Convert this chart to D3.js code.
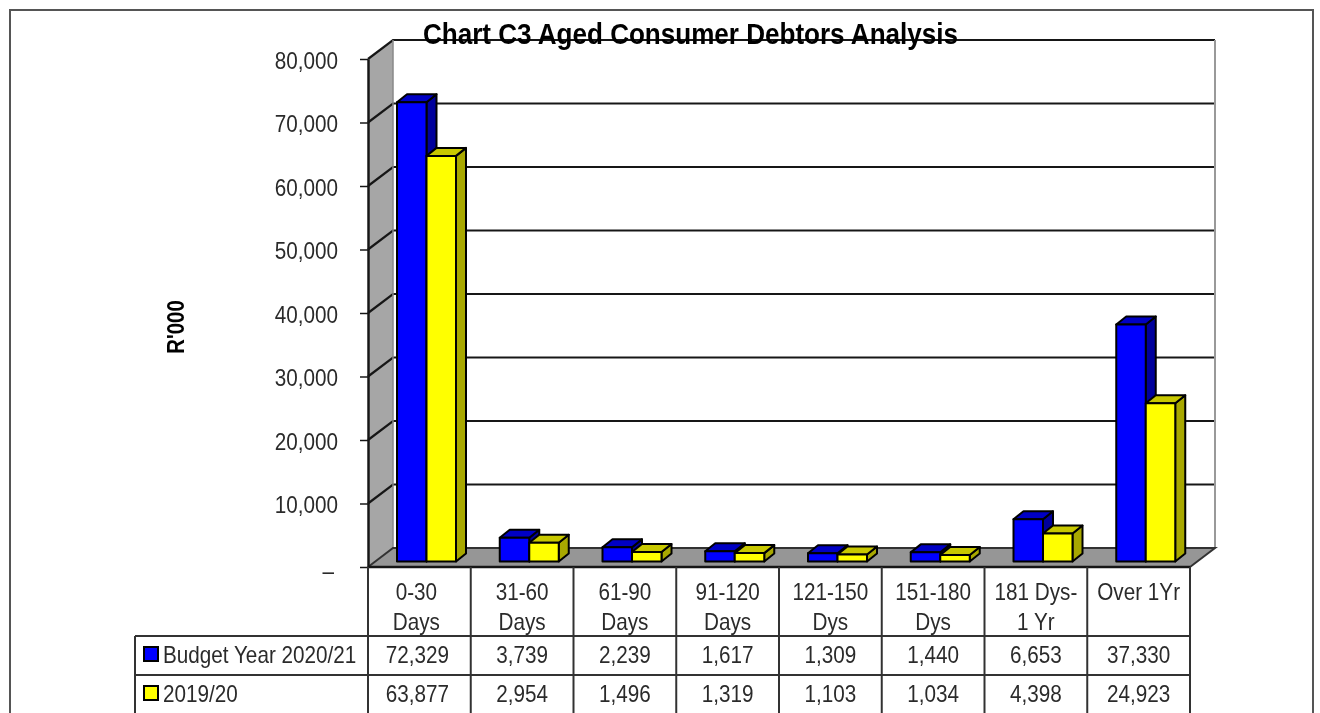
<!DOCTYPE html>
<html><head><meta charset="utf-8">
<script src="https://cdnjs.cloudflare.com/ajax/libs/d3/7.8.5/d3.min.js"></script>
<style>html,body{margin:0;padding:0;background:#fff;overflow:hidden}svg{display:block}text{font-family:"Liberation Sans",Arial,sans-serif;fill:#2c2c2c}</style>
</head><body><div id="c"></div>
<script>
const title = "Chart C3 Aged Consumer Debtors Analysis";
const yTitle = "R'000";
const categories = [["0-30","Days"],["31-60","Days"],["61-90","Days"],["91-120","Days"],["121-150","Dys"],["151-180","Dys"],["181 Dys-","1 Yr"],["Over 1Yr"]];
const seriesNames = ["Budget Year 2020/21","2019/20"];
const budget = [72329,3739,2239,1617,1309,1440,6653,37330];
const prior = [63877,2954,1496,1319,1103,1034,4398,24923];
const yTicks = [0,10000,20000,30000,40000,50000,60000,70000,80000];

const W=1320,H=713;
const svg=d3.select("#c").append("svg").attr("width",W).attr("height",H);
const defs=svg.append("defs");
defs.append("filter").attr("id","soft")
  .attr("filterUnits","userSpaceOnUse").attr("x",0).attr("y",0).attr("width",W).attr("height",H)
  .append("feGaussianBlur").attr("stdDeviation",0.6);
const g=svg.append("g").attr("filter","url(#soft)");
g.append("rect").attr("width",W).attr("height",H).attr("fill","#fff");

// Layout
const L=368,R=1190,Y0=567,Y80=59,DX=25,DY=-19;
const x=d3.scaleBand().domain(d3.range(categories.length)).range([L,R]);
const y=d3.scaleLinear().domain([0,80000]).range([Y0,Y80]);
const line="#181818";

// frame
g.append("path").attr("d",`M10,${H}V10H1313V${H}`).attr("fill","none").attr("stroke","#555").attr("stroke-width",2);

// walls
g.append("polygon").attr("points",[[L,Y0],[L+DX,Y0+DY],[L+DX,Y80+DY],[L,Y80]].join(" ")).attr("fill","#a6a6a6");
g.append("polygon").attr("points",[[L,Y0],[L+DX,Y0+DY],[R+DX,Y0+DY],[R,Y0]].join(" ")).attr("fill","#969696");

// gridlines on the back wall with diagonals
const gridV=yTicks.slice(1);
g.append("g").selectAll("path").data(gridV).join("path")
  .attr("d",v=>`M${L},${y(v)}L${L+DX},${y(v)+DY}H${R+DX}`)
  .attr("fill","none").attr("stroke",line).attr("stroke-width",2.2);
g.append("path").attr("d",`M${R+DX},${Y80+DY}V${Y0+DY}`).attr("stroke","#999").attr("stroke-width",2).attr("fill","none");
g.append("path").attr("d",`M${L+DX},${Y80+DY}V${Y0+DY}`).attr("stroke","#888").attr("stroke-width",1.5).attr("fill","none");
g.append("path").attr("d",`M${L},${Y0}L${L+DX},${Y0+DY}H${R+DX}L${R},${Y0}`).attr("stroke","#333").attr("stroke-width",2).attr("fill","none");

// Axis
const axis=d3.axisLeft(y).tickValues(yTicks).tickSize(8).tickSizeOuter(0).tickFormat(v=>v===0?"–":d3.format(",")(v));
const ax=g.append("g").attr("transform",`translate(${L},0)`).call(axis);
ax.select(".domain").attr("stroke",line).attr("stroke-width",2.5);
ax.selectAll(".tick line").attr("stroke",line).attr("stroke-width",1.5);
ax.selectAll(".tick text").attr("x",null).attr("dy",null).attr("text-anchor","end").attr("font-size",23)
  .attr("transform",d=>d===0?`translate(-34,11) scale(0.9,1)`:`translate(-30,9) scale(0.9,1)`);

// bars
const bx=29,bw=29.5,base=561.5,dpx=10,dpy=-8,scaleH=v=>y(0)-y(v);
const series=[{vals:budget,off:0,f:"#0000ff",t:"#0000c4",s:"#00009c"},{vals:prior,off:bw,f:"#ffff00",t:"#c8c800",s:"#a8a800"}];
categories.forEach((c,i)=>{
  series.forEach(s=>{
    const x0=x(i)+bx+s.off,x1=x0+bw,yt=base-scaleH(s.vals[i]);
    const gb=g.append("g").attr("stroke","#000").attr("stroke-width",2).attr("stroke-linejoin","round");
    gb.append("polygon").attr("points",[[x1,yt],[x1+dpx,yt+dpy],[x1+dpx,base+dpy],[x1,base]].join(" ")).attr("fill",s.s);
    gb.append("polygon").attr("points",[[x0,yt],[x0+dpx,yt+dpy],[x1+dpx,yt+dpy],[x1,yt]].join(" ")).attr("fill",s.t);
    gb.append("rect").attr("x",x0).attr("y",yt).attr("width",bw).attr("height",base-yt).attr("fill",s.f);
  });
});

// Table
const tL=135,rowA=636,rowB=675,rowC=713;
g.append("path").attr("d",`M${L},${Y0}H${R}`).attr("stroke",line).attr("stroke-width",2.5);
const tl=g.append("g").attr("stroke","#333").attr("stroke-width",2).attr("fill","none");
x.domain().concat(categories.length).forEach(i=>{
  const px=i<categories.length?x(i):R;
  tl.append("path").attr("d",`M${px},${Y0}V${rowC}`);
});
[rowA,rowB].forEach(r=>tl.append("path").attr("d",`M${tL},${r}H${R}`));
tl.append("path").attr("d",`M${tL},${rowA}V${rowC}`);

function label(txt,px,py,anchor){
  g.append("text").attr("text-anchor",anchor||"middle").attr("font-size",23)
    .attr("transform",`translate(${px},${py}) scale(0.9,1)`).text(txt);
}
categories.forEach((c,i)=>{
  const cx=x(i)+x.bandwidth()/2-(i===0?3:0);
  c.forEach((t,k)=>label(t,cx,600+k*30));
  const vx=x(i)+x.bandwidth()/2-(i===0?2:0);
  label(d3.format(",")(budget[i]),vx,663);
  label(d3.format(",")(prior[i]),vx,702);
});
// legend keys
[[647,"#0000ff",663],[686,"#ffff00",702]].forEach((d,k)=>{
  g.append("rect").attr("x",144).attr("y",d[0]).attr("width",14).attr("height",14).attr("fill",d[1]).attr("stroke","#000").attr("stroke-width",2);
  label(seriesNames[k],163,d[2],"start");
});

// Titles
g.append("text").attr("x",423).attr("y",44).attr("font-size",29).attr("font-weight","bold")
  .attr("textLength",535).attr("lengthAdjust","spacingAndGlyphs").style("fill","#000").text(title);
g.append("text").attr("text-anchor","middle").attr("font-size",24).attr("font-weight","bold").style("fill","#000")
  .attr("transform","translate(184,327) rotate(-90) scale(0.85,1)").text(yTitle);
</script></body></html>
